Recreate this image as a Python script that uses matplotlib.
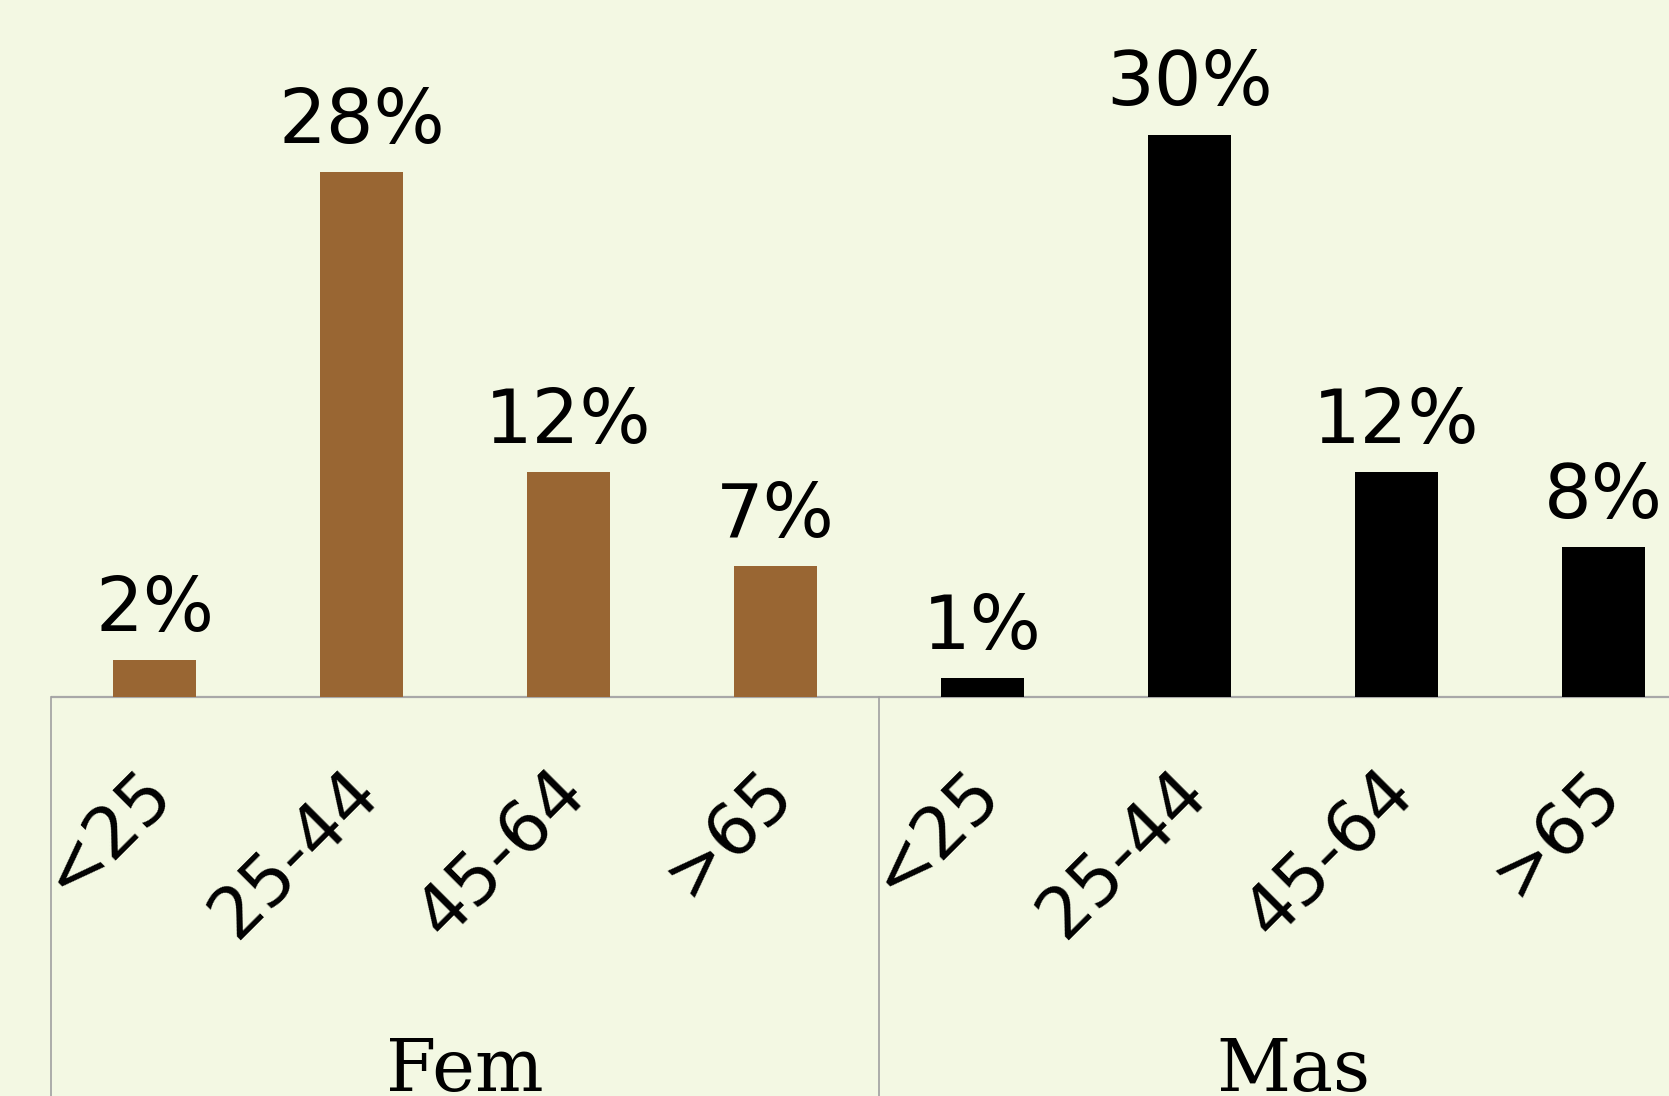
import matplotlib
matplotlib.use("Agg")
import matplotlib.pyplot as plt

groups = ["Fem", "Mas"]
age_bands = ["<25", "25-44", "45-64", ">65"]
fem_values = [2, 28, 12, 7]
mas_values = [1, 30, 12, 8]
group_colors = ["#996633", "#000000"]

BG = "#F3F8E3"
W, H, DPI = 1669, 1096, 100

fig = plt.figure(figsize=(W / DPI, H / DPI), dpi=DPI, facecolor=BG)
ax = fig.add_axes([0, 0, 1, 1], facecolor=BG)

# pixel geometry -> data limits
slot_px = 207.0
left_px = 51.0
base_px_from_top = 697.0
px_per_pct = 18.75
ax.set_xlim(-left_px / slot_px - 0.5, (W - left_px) / slot_px - 0.5)
ax.set_ylim(-(H - base_px_from_top) / px_per_pct, base_px_from_top / px_per_pct)
ax.axis("off")

n = len(age_bands)
series = [fem_values, mas_values]
for g, (vals, col) in enumerate(zip(series, group_colors)):
    xs = [g * n + i for i in range(n)]
    ax.bar(xs, vals, width=0.4, color=col, zorder=3)
    for x, v, lab in zip(xs, vals, age_bands):
        ax.annotate(f"{v}%", xy=(x, v), xytext=(0, 29), textcoords="offset pixels",
                    ha="center", va="baseline", fontsize=54, family="DejaVu Sans",
                    color="black")
        ax.annotate(lab, xy=(x, 0), xytext=(6, -84), textcoords="offset pixels",
                    ha="right", va="center", rotation=45, rotation_mode="anchor",
                    fontsize=51, family="DejaVu Sans", color="black")
    ax.annotate(groups[g], xy=(g * n + (n - 1) / 2, 0), xytext=(0, -394),
                textcoords="offset pixels", ha="center", va="baseline",
                fontsize=52, family="DejaVu Serif", color="black")

# axis baseline and group separators
ax.plot([-0.5, len(groups) * n], [0, 0], color="#A8A8A8", lw=1.6, zorder=2,
        solid_capstyle="butt")
ymin = ax.get_ylim()[0]
for g in range(len(groups) + 1):
    ax.plot([g * n - 0.5, g * n - 0.5], [ymin, 0], color="#A0A0A0", lw=1.2, zorder=2)

fig.savefig("out.png", dpi=DPI, facecolor=BG)
